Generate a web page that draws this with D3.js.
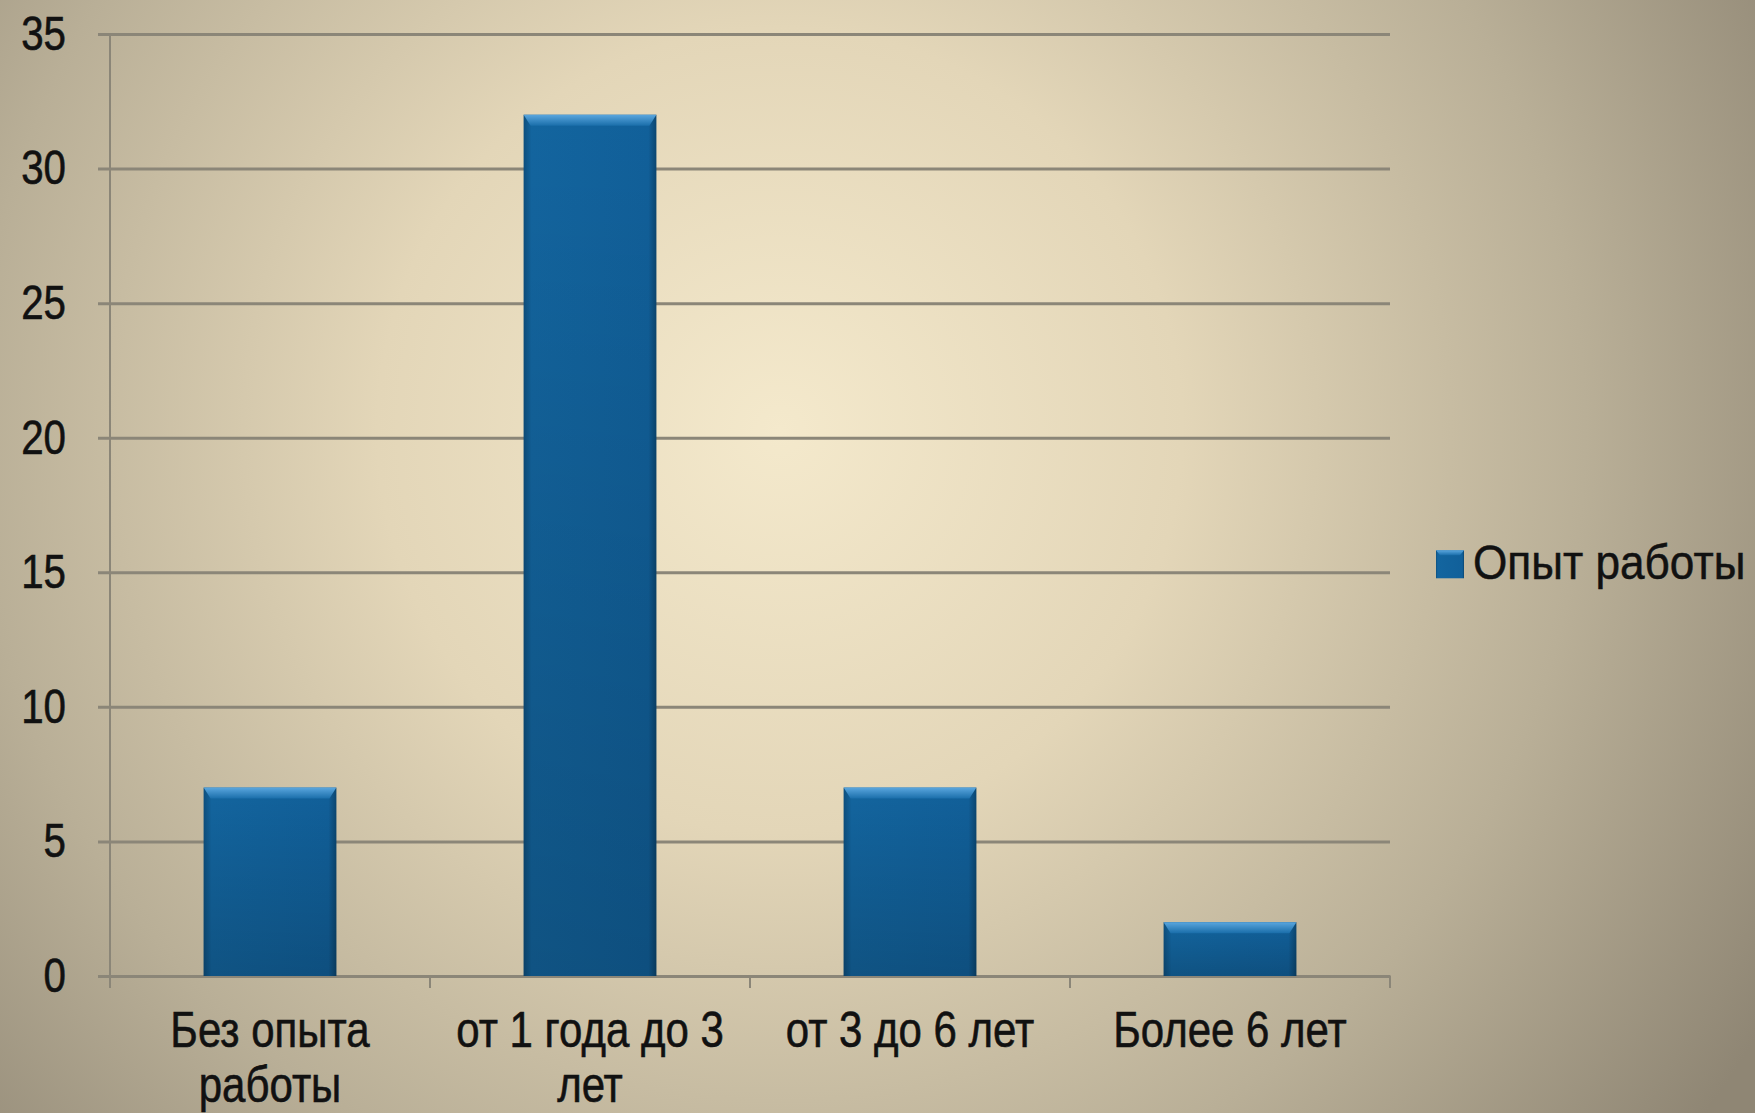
<!DOCTYPE html>
<html>
<head>
<meta charset="utf-8">
<script src="https://cdn.jsdelivr.net/npm/d3@7"></script>
<style>
  html, body { margin: 0; padding: 0; overflow: hidden; }
  svg { display: block; }
</style>
</head>
<body>
<script>
// data
const categories = ['Без опыта работы', 'от 1 года до 3 лет', 'от 3 до 6 лет', 'Более 6 лет'];
const labelLines = [['Без опыта', 'работы'], ['от 1 года до 3', 'лет'], ['от 3 до 6 лет'], ['Более 6 лет']];
const values = [7, 32, 7, 2];
const seriesName = 'Опыт работы';
const yTicks = [0, 5, 10, 15, 20, 25, 30, 35];

// setting canvas
const width = 1755;
const height = 1113;
const margin = { top: 34, left: 110, bottom: 137, right: 365 };
const font = '"Liberation Sans", Arial, sans-serif';
const squeeze = 0.84; // labels are set in a condensed face

const svg = d3.select('body').append('svg').attr('width', width).attr('height', height);
const defs = svg.append('defs');

// background gradient
const bg = defs.append('radialGradient').attr('id', 'bg')
  .attr('gradientUnits', 'userSpaceOnUse')
  .attr('cx', 780).attr('cy', 430).attr('r', 1150);
bg.append('stop').attr('offset', '0%').attr('stop-color', '#f4e9cc');
bg.append('stop').attr('offset', '35%').attr('stop-color', '#e3d6b8');
bg.append('stop').attr('offset', '70%').attr('stop-color', '#b9af97');
bg.append('stop').attr('offset', '100%').attr('stop-color', '#8f8674');
svg.append('rect').attr('width', width).attr('height', height).attr('fill', 'url(#bg)');

// bar gradients
const barGrad = defs.append('linearGradient').attr('id', 'barGrad').attr('x1', 0).attr('x2', 1).attr('y1', 0).attr('y2', 0);
barGrad.append('stop').attr('offset', '0%').attr('stop-color', '#0d4f7e');
barGrad.append('stop').attr('offset', '6%').attr('stop-color', '#13659f');
barGrad.append('stop').attr('offset', '94%').attr('stop-color', '#11609a');
barGrad.append('stop').attr('offset', '100%').attr('stop-color', '#0b4670');

const shade = defs.append('linearGradient').attr('id', 'shade').attr('x1', 0).attr('x2', 0).attr('y1', 0).attr('y2', 1);
shade.append('stop').attr('offset', '0%').attr('stop-color', '#000').attr('stop-opacity', 0);
shade.append('stop').attr('offset', '100%').attr('stop-color', '#000').attr('stop-opacity', 0.18);

const bevel = defs.append('linearGradient').attr('id', 'bevel').attr('x1', 0).attr('x2', 0).attr('y1', 0).attr('y2', 1);
bevel.append('stop').attr('offset', '0%').attr('stop-color', '#5aa6de');
bevel.append('stop').attr('offset', '100%').attr('stop-color', '#1a6eaa');

// scales
const x = d3.scaleBand()
  .domain(categories)
  .range([margin.left, width - margin.right]);

const y = d3.scaleLinear()
  .domain([0, 35])
  .range([height - margin.bottom, margin.top]);

const barW = x.bandwidth() * 0.415;

// y axis with grid
const yAxis = (g) =>
  g.attr('transform', `translate(${margin.left}, 0)`)
    .call(d3.axisLeft(y).tickValues(yTicks).tickSize(12).tickPadding(0))
    .call((g) => g.select('.domain').remove())
    .call((g) => g.selectAll('.tick line')
      .attr('x1', -12)
      .attr('x2', width - margin.right - margin.left)
      .attr('stroke', '#8b8678')
      .attr('stroke-width', 3))
    .call((g) => g.selectAll('.tick text')
      .attr('x', null)
      .attr('transform', `translate(-44, 0) scale(${squeeze}, 1)`)
      .attr('fill', '#111')
      .attr('stroke', '#111')
      .attr('stroke-width', 0.6)
      .attr('font-family', font)
      .attr('font-size', '48px'));

svg.append('g').call(yAxis);

// left axis line
svg.append('line')
  .attr('x1', margin.left).attr('x2', margin.left)
  .attr('y1', y(35)).attr('y2', y(0) + 12)
  .attr('stroke', '#8b8678').attr('stroke-width', 2);

// x axis: ticks at category boundaries
const xAxis = (g) =>
  g.attr('transform', `translate(0, ${y(0)})`)
    .call(d3.axisBottom(x).tickSize(0).tickFormat(''))
    .call((g) => g.select('.domain').attr('stroke', '#8b8678').attr('stroke-width', 3));

svg.append('g').call(xAxis);

svg.append('g')
  .selectAll('line')
  .data(categories.slice(1).map((d) => x(d)).concat([x.range()[1]]))
  .enter()
  .append('line')
  .attr('x1', (d) => d).attr('x2', (d) => d)
  .attr('y1', y(0)).attr('y2', y(0) + 12)
  .attr('stroke', '#8b8678').attr('stroke-width', 2);

// category labels
const labels = svg.append('g')
  .selectAll('text')
  .data(categories)
  .enter()
  .append('text')
  .attr('transform', (d) => `translate(${x(d) + x.bandwidth() / 2}, ${y(0) + 71}) scale(${squeeze}, 1)`)
  .attr('text-anchor', 'middle')
  .attr('fill', '#111')
  .attr('stroke', '#111')
  .attr('stroke-width', 0.6)
  .attr('font-family', font)
  .attr('font-size', '50px');

labels.selectAll('tspan')
  .data((d, i) => labelLines[i])
  .enter()
  .append('tspan')
  .attr('x', 0)
  .attr('dy', (d, i) => (i === 0 ? 0 : 55))
  .text((d) => d);

// bars
const bars = svg.append('g')
  .selectAll('g')
  .data(values)
  .enter()
  .append('g')
  .attr('transform', (d, i) => `translate(${x(categories[i]) + x.bandwidth() / 2 - barW / 2}, 0)`);

bars.append('rect')
  .attr('y', (d) => y(d))
  .attr('width', barW)
  .attr('height', (d) => y(0) - y(d))
  .attr('fill', 'url(#barGrad)');

bars.append('rect')
  .attr('y', (d) => y(d))
  .attr('width', barW)
  .attr('height', (d) => y(0) - y(d))
  .attr('fill', 'url(#shade)');

bars.append('path')
  .attr('d', (d) => {
    const t = y(d);
    return `M0,${t} L${barW},${t} L${barW - 7},${t + 11} L7,${t + 11} Z`;
  })
  .attr('fill', 'url(#bevel)');

// legend
const legend = svg.append('g').attr('transform', `translate(1436, ${y(15) - 8})`);
legend.append('rect')
  .attr('y', -14).attr('width', 28).attr('height', 28)
  .attr('fill', 'url(#barGrad)');
legend.append('path')
  .attr('d', 'M0,-14 L28,-14 L24,-9 L4,-9 Z')
  .attr('fill', 'url(#bevel)');
legend.append('text')
  .attr('transform', 'translate(37, 15) scale(0.92, 1)')
  .attr('fill', '#111')
  .attr('stroke', '#111')
  .attr('stroke-width', 0.5)
  .attr('font-family', font)
  .attr('font-size', '48px')
  .text(seriesName);
</script>
</body>
</html>
